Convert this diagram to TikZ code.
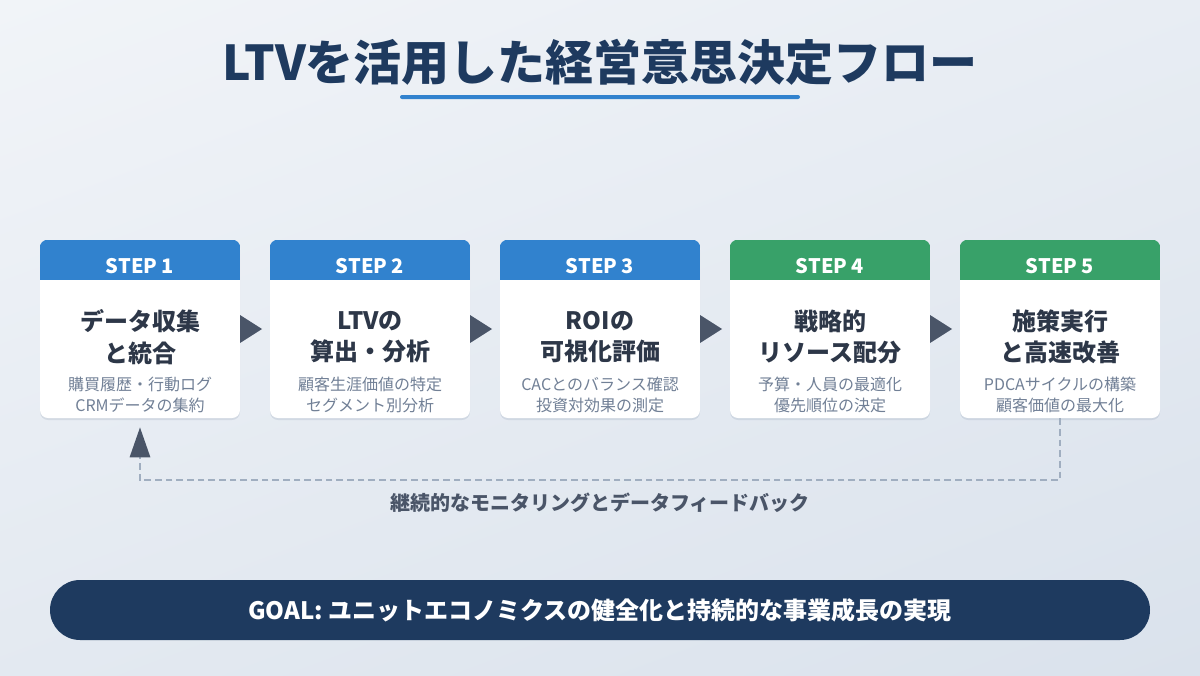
\documentclass[tikz,border=0pt]{standalone}
\usepackage{fontspec}
\setmainfont{Noto Sans CJK JP}
\usetikzlibrary{positioning,arrows.meta,shapes.geometric,shadows,shadings}

\definecolor{navy}{HTML}{1E3A5F}
\definecolor{stepblue}{HTML}{3182CE}
\definecolor{stepgreen}{HTML}{38A169}
\definecolor{ink}{HTML}{2D3748}
\definecolor{muted}{HTML}{718096}
\definecolor{arrowgray}{HTML}{4A5568}
\definecolor{dashgray}{HTML}{A0AEC0}
\definecolor{bgtl}{HTML}{F1F4F8}
\definecolor{bgbr}{HTML}{DAE2EC}

\begin{document}
\begin{tikzpicture}[
    x=0.75pt, y=-0.75pt,
    maintitle/.style={text=navy, font=\bfseries\fontsize{36}{43}\selectfont},
    uline/.style={fill=stepblue, rounded corners=1.5pt, minimum width=300pt,
                  minimum height=3pt, inner sep=0pt},
    card/.style={fill=white, rounded corners=6pt, minimum width=150pt,
                 minimum height=133.5pt, inner sep=0pt,
                 drop shadow={shadow xshift=0pt, shadow yshift=-1.5pt,
                              opacity=0.10, fill=navy}},
    hdrtext/.style={text=white, font=\bfseries\fontsize{15}{18}\selectfont},
    headline/.style={text=ink, align=center,
                     font=\bfseries\fontsize{18}{23.5}\selectfont},
    detail/.style={text=muted, align=center, font=\fontsize{12}{16}\selectfont},
    flowtri/.style={isosceles triangle, isosceles triangle stretches,
                    fill=arrowgray, minimum width=21pt, minimum height=16.5pt,
                    inner sep=0pt, anchor=apex},
    fbline/.style={draw=dashgray, line width=2.2pt, dash pattern=on 5pt off 3pt,
                   -{Triangle[length=22.5pt, width=15pt, color=arrowgray]}},
    fblabel/.style={text=arrowgray, font=\bfseries\fontsize{15}{18}\selectfont},
    goalbar/.style={fill=navy, text=white, rounded corners=22.5pt,
                    minimum width=825pt, minimum height=45pt,
                    font=\bfseries\fontsize{18}{21}\selectfont}
  ]

  % ---- background ----
  \shade[upper left=bgtl, upper right=bgtl!60!bgbr, lower left=bgtl!40!bgbr,
         lower right=bgbr] (0,0) rectangle (1200,675);
  \useasboundingbox (0,0) rectangle (1200,675);

  % ---- title ----
  \node[maintitle] (title) at (600,62) {LTVを活用した経営意思決定フロー};
  \node[uline] (titleline) at (600,97) {};

  % ---- step cards ----
  \foreach \i/\x/\col/\hd/\sb in {
      1/140/stepblue/{データ収集\\と統合}/{購買履歴・行動ログ\\CRMデータの集約},
      2/370/stepblue/{LTVの\\算出・分析}/{顧客生涯価値の特定\\セグメント別分析},
      3/600/stepblue/{ROIの\\可視化評価}/{CACとのバランス確認\\投資対効果の測定},
      4/830/stepgreen/{戦略的\\リソース配分}/{予算・人員の最適化\\優先順位の決定},
      5/1060/stepgreen/{施策実行\\と高速改善}/{PDCAサイクルの構築\\顧客価値の最大化}} {
    \node[card] (s\i) at (\x,329) {};
    \begin{scope}
      \clip[rounded corners=6pt] (s\i.south west) rectangle (s\i.north east);
      \fill[\col] (s\i.north west) rectangle ([yshift=-30pt]s\i.north east);
    \end{scope}
    \node[hdrtext] (h\i) at (\x,266) {STEP \i};
    \node[headline] (t\i) at (\x,337) {\hd};
    \node[detail] (d\i) at (\x,395) {\sb};
  }

  % ---- flow arrows ----
  \foreach \a/\b in {1/2,2/3,3/4,4/5}
    \node[flowtri] (tri\a) at ([xshift=-5.25pt]s\b.west) {};

  % ---- feedback loop ----
  \coordinate (fbR) at (s5.south |- 0,480);
  \coordinate (fbL) at (s1.south |- 0,480);
  \draw[fbline, shorten >=6.75pt] (s5.south) -- (fbR) -- (fbL) -- (s1.south);
  \node[fblabel] (fbtext) at (600,503) {継続的なモニタリングとデータフィードバック};

  % ---- goal ----
  \node[goalbar] (goal) at (600,610)
    {GOAL: ユニットエコノミクスの健全化と持続的な事業成長の実現};

\end{tikzpicture}
\end{document}
